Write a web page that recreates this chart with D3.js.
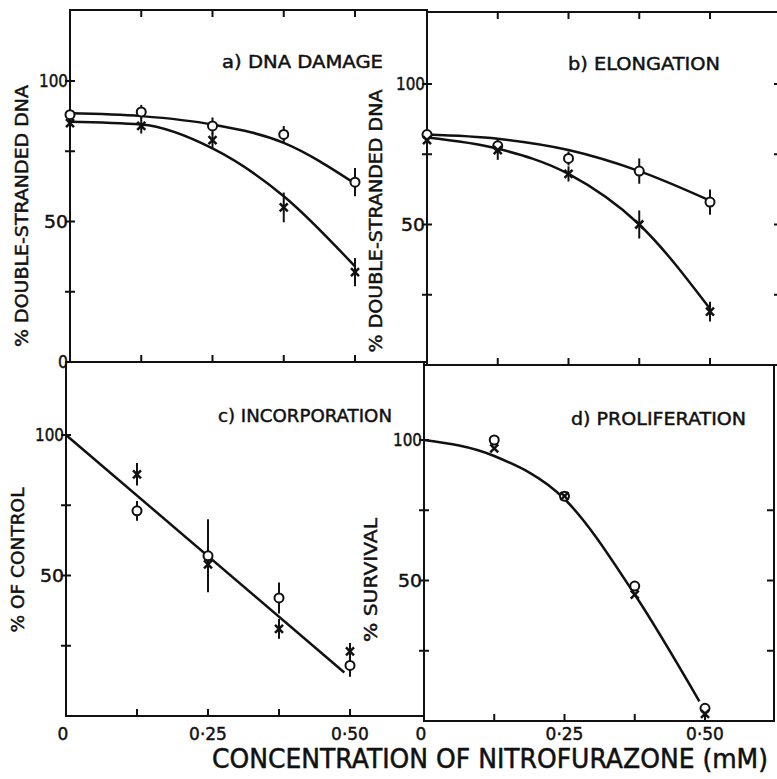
<!DOCTYPE html>
<html>
<head>
<meta charset="utf-8">
<script src="https://cdnjs.cloudflare.com/ajax/libs/d3/7.8.5/d3.min.js"></script>
<style>
  body { margin: 0; background: #fff; }
  text { font-family: "DejaVu Sans", sans-serif; fill: #111; stroke: #111; stroke-width: 0.45px; }
</style>
</head>
<body>
<div id="chart-area"></div>
<script>
// concentrations (mM)
var conc = [0, 0.125, 0.25, 0.375, 0.5];
var yTicks = [25, 50, 75, 100];
var xTicks = [0.125, 0.25, 0.375, 0.5];
var xLabelVals = [0, 0.25, 0.5];
var xLabelText = ["0", "0·25", "0·50"];

// a) DNA damage
var aCircle = [88, 89, 84, 81, 64];
var aCircleErr = [0, 2.5, 3, 3, 5];
var aCross = [85, 84, 79, 55, 32];
var aCrossErr = [0, 2.7, 2.6, 5.3, 5];
var aCircleFit = [88.5, 87.5, 84.5, 78, 63.5];
var aCrossFit = [85.5, 84.5, 76, 59, 34];

// b) elongation
var bCircle = [82, 78, 73.5, 69, 58];
var bCircleErr = [0, 2, 2.5, 4.5, 4.5];
var bCross = [80, 76.5, 68, 50, 19];
var bCrossErr = [0, 3.5, 2.7, 5, 3.5];
var bCircleFit = [82, 80.5, 76.5, 69, 58.5];
var bCrossFit = [81, 77, 68, 50, 20];

// c) incorporation
var cConc = [0.125, 0.25, 0.375, 0.5];
var cCircle = [73, 57, 42, 18];
var cCircleErr = [3.5, 13, 5.5, 4];
var cCross = [86, 54, 31, 23];
var cCrossErr = [4, 3.3, 3.5, 3];
var cFitConc = [0, 0.49];
var cFit = [100, 15.5];

// d) proliferation
var dConc = [0.125, 0.25, 0.375, 0.5];
var dCircle = [100, 80, 48, 4.5];
var dCross = [97, 80, 45, 2.5];
var dFitConc = [0, 0.125, 0.25, 0.375, 0.49];
var dFit = [100, 94.3, 79, 45, 7];

var width = 777, height = 779;

var svg = d3.select("#chart-area")
  .append("svg")
  .attr("width", width)
  .attr("height", height);

var panels = [
  { left: 70, right: 427, top: 10, bottom: 362, span: 285, rightTicks: null,
    title: "a) DNA  DAMAGE", titleX: 222, titleY: 68, titleLen: 161,
    ylab: "% DOUBLE-STRANDED DNA", ylabX: 22, ylabY: 216, ylabLen: 262,
    yLabels: [0, 50, 100], topTicks: true, xLabels: false,
    series: [
      { x: conc, fx: conc, fit: aCircleFit, pts: aCircle, err: aCircleErr, type: "o" },
      { x: conc, fx: conc, fit: aCrossFit, pts: aCross, err: aCrossErr, type: "x" }
    ] },
  { left: 427, right: 781, top: 12, bottom: 365, span: 283, rightTicks: yTicks,
    title: "b)  ELONGATION", titleX: 568, titleY: 70, titleLen: 152,
    ylab: "% DOUBLE-STRANDED  DNA", ylabX: 376, ylabY: 221, ylabLen: 263,
    yLabels: [50, 100], topTicks: true, xLabels: false,
    series: [
      { x: conc, fx: conc, fit: bCircleFit, pts: bCircle, err: bCircleErr, type: "o" },
      { x: conc, fx: conc, fit: bCrossFit, pts: bCross, err: bCrossErr, type: "x" }
    ] },
  { left: 66, right: 424, top: 362, bottom: 716, span: 284, rightTicks: null,
    title: "c) INCORPORATION", titleX: 218, titleY: 422, titleLen: 174,
    ylab: "% OF CONTROL", ylabX: 18, ylabY: 560, ylabLen: 145,
    yLabels: [50, 100], topTicks: false, xLabels: true,
    series: [
      { x: cConc, fx: cFitConc, fit: cFit, pts: cCircle, err: cCircleErr, type: "o" },
      { x: cConc, fx: null, fit: null, pts: cCross, err: cCrossErr, type: "x" }
    ] },
  { left: 424, right: 774, top: 365, bottom: 721, span: 281, rightTicks: [25, 50, 75],
    title: "d) PROLIFERATION", titleX: 571, titleY: 425, titleLen: 175,
    ylab: "% SURVIVAL", ylabX: 371, ylabY: 580, ylabLen: 124,
    yLabels: [50, 100], topTicks: false, xLabels: true,
    series: [
      { x: dConc, fx: dFitConc, fit: dFit, pts: dCircle, err: null, type: "o" },
      { x: dConc, fx: null, fit: null, pts: dCross, err: null, type: "x" }
    ] }
];

var line = d3.line().curve(d3.curveMonotoneX);

panels.forEach(function(p) {
  var x = d3.scaleLinear().domain([0, 0.5]).range([p.left, p.left + p.span]);
  var y = d3.scaleLinear().domain([0, 100]).range([p.bottom, p.bottom - 281]);
  var g = svg.append("g");

  // frame
  g.append("rect")
    .attr("x", p.left).attr("y", p.top)
    .attr("width", p.right - p.left).attr("height", p.bottom - p.top)
    .attr("fill", "none").attr("stroke", "#111").attr("stroke-width", 2);

  // y ticks crossing the left axis
  g.selectAll(".ytick").data(yTicks).enter().append("line")
    .attr("x1", p.left - 5).attr("x2", p.left + 5)
    .attr("y1", function(d) { return y(d); }).attr("y2", function(d) { return y(d); })
    .attr("stroke", "#111").attr("stroke-width", 2);

  if (p.rightTicks) {
    g.selectAll(".rtick").data(p.rightTicks).enter().append("line")
      .attr("x1", p.right - 7).attr("x2", p.right)
      .attr("y1", function(d) { return y(d); }).attr("y2", function(d) { return y(d); })
      .attr("stroke", "#111").attr("stroke-width", 2);
  }

  // x ticks, pointing inward
  g.selectAll(".btick").data(xTicks).enter().append("line")
    .attr("x1", function(d) { return x(d); }).attr("x2", function(d) { return x(d); })
    .attr("y1", p.bottom).attr("y2", p.bottom - 7)
    .attr("stroke", "#111").attr("stroke-width", 2);
  if (p.topTicks) {
    g.selectAll(".ttick").data(xTicks).enter().append("line")
      .attr("x1", function(d) { return x(d); }).attr("x2", function(d) { return x(d); })
      .attr("y1", p.top).attr("y2", p.top + 7)
      .attr("stroke", "#111").attr("stroke-width", 2);
  }

  // y tick labels
  g.selectAll(".ylab").data(p.yLabels).enter().append("text")
    .attr("x", p.left - 2)
    .attr("y", function(d) { return y(d) + 6; })
    .attr("text-anchor", "end")
    .attr("font-size", "17px")
    .attr("textLength", function(d) { return d == 100 ? 29 : d == 50 ? 24 : 10; })
    .attr("lengthAdjust", "spacingAndGlyphs")
    .text(function(d) { return d; });

  // x tick labels
  if (p.xLabels) {
    g.selectAll(".xlab").data(xLabelVals).enter().append("text")
      .attr("x", function(d) { return x(d) - (d == 0 ? 3 : 0); })
      .attr("y", 740)
      .attr("text-anchor", "middle")
      .attr("font-size", "17px")
      .text(function(d, i) { return xLabelText[i]; });
  }

  // panel title
  g.append("text")
    .attr("x", p.titleX).attr("y", p.titleY)
    .attr("font-size", "17px")
    .attr("textLength", p.titleLen)
    .attr("lengthAdjust", "spacingAndGlyphs")
    .text(p.title);

  // rotated axis label
  g.append("text")
    .attr("transform", "translate(" + (p.ylabX + 6) + "," + p.ylabY + ") rotate(-90)")
    .attr("text-anchor", "middle")
    .attr("font-size", "17px")
    .attr("textLength", p.ylabLen)
    .attr("lengthAdjust", "spacingAndGlyphs")
    .text(p.ylab);

  // fitted curves
  p.series.forEach(function(s) {
    if (!s.fit) return;
    g.append("path")
      .attr("d", line(s.fx.map(function(v, i) { return [x(v), y(s.fit[i])]; })))
      .attr("fill", "none").attr("stroke", "#111").attr("stroke-width", 2.5);
  });

  // error bars
  p.series.forEach(function(s) {
    if (!s.err) return;
    var bars = s.pts.map(function(v, i) { return { c: s.x[i], v: v, e: s.err[i] }; })
      .filter(function(d) { return d.e > 0; });
    g.selectAll(null).data(bars).enter().append("line")
      .attr("x1", function(d) { return x(d.c); })
      .attr("x2", function(d) { return x(d.c); })
      .attr("y1", function(d) { return y(d.v + d.e); })
      .attr("y2", function(d) { return y(d.v - d.e); })
      .attr("stroke", "#111").attr("stroke-width", 2);
  });

  // markers
  p.series.forEach(function(s) {
    if (s.type == "o") {
      g.selectAll(null).data(s.pts).enter().append("circle")
        .attr("cx", function(d, i) { return x(s.x[i]); })
        .attr("cy", function(d) { return y(d); })
        .attr("r", 4.5)
        .attr("fill", "#fff").attr("stroke", "#111").attr("stroke-width", 2);
    } else {
      g.selectAll(null).data(s.pts).enter().append("path")
        .attr("d", function(d, i) {
          var cx = x(s.x[i]), cy = y(d), r = 4;
          return "M" + (cx - r) + "," + (cy - r) + "L" + (cx + r) + "," + (cy + r) +
                 "M" + (cx + r) + "," + (cy - r) + "L" + (cx - r) + "," + (cy + r);
        })
        .attr("fill", "none").attr("stroke", "#111").attr("stroke-width", 2.5);
    }
  });
});

// shared x-axis title (narrow font size, stretched a little vertically)
svg.append("text")
  .attr("transform", "translate(212,768) scale(1,1.18)")
  .attr("font-size", "22px")
  .attr("textLength", 556)
  .attr("lengthAdjust", "spacingAndGlyphs")
  .text("CONCENTRATION OF NITROFURAZONE  (mM)");
</script>
</body>
</html>
